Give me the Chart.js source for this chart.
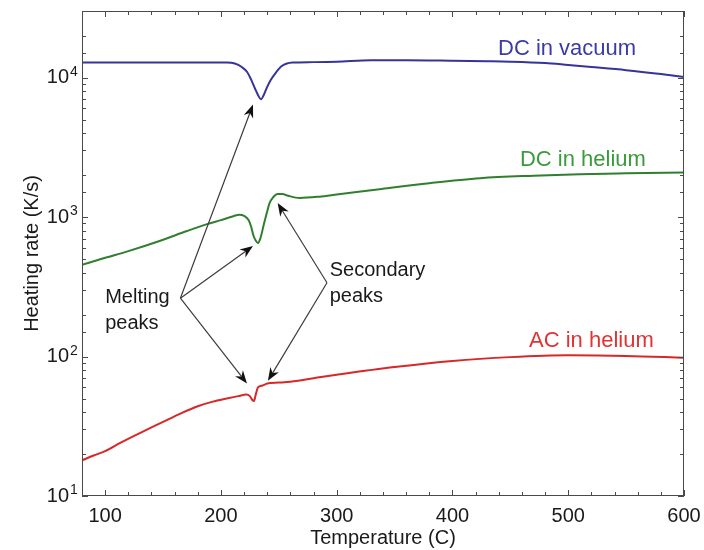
<!DOCTYPE html>
<html><head><meta charset="utf-8">
<script src="https://cdn.jsdelivr.net/npm/chart.js@4.4.1/dist/chart.umd.min.js"></script>
<style>html,body{margin:0;padding:0;background:#fff}canvas{display:block}</style>
</head><body>
<canvas id="c" width="704" height="550"></canvas>
<script>
// ---- data ----
const xTickValues = [100, 200, 300, 400, 500, 600];
const yTickValues = [10, 100, 1000, 10000];
const yTickExponents = ['1', '2', '3', '4'];
const seriesNames = ['DC in vacuum', 'DC in helium', 'AC in helium'];

const vacuumT    = [80, 120, 160, 205, 212, 218, 222.5, 226, 229.4, 232, 234.6, 237, 239.5, 243, 248, 252, 257, 262, 280, 300, 330, 360, 400, 430, 450, 480, 500, 520, 550, 580, 600];
const vacuumRate = [12800, 12800, 12800, 12800, 12600, 11900, 11000, 9700, 8350, 7500, 7000, 7500, 8400, 9600, 11000, 12000, 12600, 12800, 12900, 13000, 13300, 13300, 13200, 13100, 13000, 12700, 12300, 11900, 11300, 10600, 10100];

const heliumT    = [80, 100, 120, 147, 170, 188, 200, 210, 216, 220, 224, 226, 228, 230, 232, 234, 237, 240, 242, 245, 249, 253, 258, 268, 285, 300, 337, 380, 424, 470, 510, 550, 600];
const heliumRate = [454, 510, 570, 674, 790, 890, 950, 1010, 1040, 1020, 950, 860, 740, 680, 652, 700, 880, 1100, 1260, 1380, 1460, 1460, 1420, 1370, 1400, 1450, 1585, 1750, 1900, 1980, 2030, 2060, 2090];

const acT    = [80, 90, 100, 113, 125, 140, 150, 165, 180, 193, 205, 215, 222, 225, 227, 228.5, 230, 232, 236, 240, 250, 260, 285, 300, 350, 400, 450, 500, 550, 600];
const acRate = [18, 19.5, 21, 24, 27, 31, 34, 39, 44, 47.5, 50, 52, 53.5, 52, 49, 48, 53, 60, 62, 64, 65, 66, 71, 74, 84, 93, 99, 102, 101, 98];

const noteLines = [['Melting', 'peaks'], ['Secondary', 'peaks']];
const meltingTargets   = [[227.7, 6400], [227.7, 621], [222.5, 64]];
const secondaryTargets = [[249, 1259], [240.6, 67]];

// ---- layout / style (not data) ----
const FONT = '"Liberation Sans", Arial, Helvetica, sans-serif';
const colors = ['#34349a', '#2f7f2f', '#d62828'];
const labelColors = ['#3a3aa8', '#3b9a3b', '#e03333'];
const labelAnchors = [[499, 16100], [512.7, 2550], [520, 130]];
const noteAnchors = [[[100, 264], [100, 172]], [[294, 411], [294, 268]]];
const meltingOrigin = [165, 262];
const secondaryOrigin = [291.6, 338];

const pts = (xs, ys) => xs.map((v, i) => ({x: v, y: ys[i]}));

const overlay = {
  id: 'overlay',
  afterDraw(chart) {
    const {ctx, chartArea: a, scales: {x, y}} = chart;
    ctx.save();
    // frame
    ctx.strokeStyle = '#4a4a4a';
    ctx.lineWidth = 1;
    ctx.strokeRect(a.left + 0.5, a.top + 0.5, a.right - a.left - 1, a.bottom - a.top - 1);
    ctx.beginPath();
    // x ticks (inward, top and bottom)
    x.ticks.forEach(t => {
      const px = Math.round(x.getPixelForValue(t.value)) + 0.5;
      const L = (t.value % 100 === 0) ? 6 : 4;
      ctx.moveTo(px, a.bottom); ctx.lineTo(px, a.bottom - L);
      ctx.moveTo(px, a.top); ctx.lineTo(px, a.top + L);
    });
    // y ticks (inward, left and right)
    y.ticks.forEach(t => {
      const v = t.value;
      const m = v / Math.pow(10, Math.floor(Math.log10(v) + 1e-9));
      const L = Math.abs(m - 1) < 1e-6 ? 6 : 4;
      const py = Math.round(y.getPixelForValue(v)) + 0.5;
      ctx.moveTo(a.left, py); ctx.lineTo(a.left + L, py);
      ctx.moveTo(a.right, py); ctx.lineTo(a.right - L, py);
    });
    ctx.stroke();

    // y tick labels with superscript
    ctx.fillStyle = '#1a1a1a';
    yTickValues.forEach((v, i) => {
      const py = y.getPixelForValue(v);
      ctx.font = '20px ' + FONT;
      ctx.textAlign = 'right';
      ctx.textBaseline = 'middle';
      const xr = a.left - 13;
      ctx.fillText('10', xr, py);
      ctx.font = '14px ' + FONT;
      ctx.textAlign = 'left';
      ctx.textBaseline = 'alphabetic';
      ctx.fillText(yTickExponents[i], xr + 1, py - 2);
    });

    // series labels
    ctx.font = '22px ' + FONT;
    ctx.textAlign = 'center';
    ctx.textBaseline = 'middle';
    seriesNames.forEach((n, i) => {
      ctx.fillStyle = labelColors[i];
      ctx.fillText(n, x.getPixelForValue(labelAnchors[i][0]), y.getPixelForValue(labelAnchors[i][1]));
    });

    // arrows
    const arrow = (from, to) => {
      const x0 = x.getPixelForValue(from[0]), y0 = y.getPixelForValue(from[1]);
      const x1 = x.getPixelForValue(to[0]), y1 = y.getPixelForValue(to[1]);
      const ang = Math.atan2(y1 - y0, x1 - x0);
      const len = 13, hw = 5, notch = 9;
      ctx.strokeStyle = '#3c3c3c';
      ctx.lineWidth = 1.2;
      ctx.beginPath();
      ctx.moveTo(x0, y0);
      ctx.lineTo(x1 - Math.cos(ang) * notch, y1 - Math.sin(ang) * notch);
      ctx.stroke();
      ctx.fillStyle = '#111';
      ctx.beginPath();
      ctx.moveTo(x1, y1);
      ctx.lineTo(x1 - Math.cos(ang) * len - Math.sin(ang) * hw, y1 - Math.sin(ang) * len + Math.cos(ang) * hw);
      ctx.lineTo(x1 - Math.cos(ang) * notch, y1 - Math.sin(ang) * notch);
      ctx.lineTo(x1 - Math.cos(ang) * len + Math.sin(ang) * hw, y1 - Math.sin(ang) * len - Math.cos(ang) * hw);
      ctx.closePath();
      ctx.fill();
    };
    meltingTargets.forEach(t => arrow(meltingOrigin, t));
    secondaryTargets.forEach(t => arrow(secondaryOrigin, t));

    // note text
    ctx.fillStyle = '#1a1a1a';
    ctx.font = '20px ' + FONT;
    ctx.textAlign = 'left';
    ctx.textBaseline = 'middle';
    noteLines.forEach((lines, i) => {
      lines.forEach((s, j) => {
        ctx.fillText(s, x.getPixelForValue(noteAnchors[i][j][0]), y.getPixelForValue(noteAnchors[i][j][1]));
      });
    });
    ctx.restore();
  }
};

new Chart(document.getElementById('c'), {
  type: 'line',
  data: {
    datasets: [
      {label: seriesNames[0], data: pts(vacuumT, vacuumRate), borderColor: colors[0]},
      {label: seriesNames[1], data: pts(heliumT, heliumRate), borderColor: colors[1]},
      {label: seriesNames[2], data: pts(acT, acRate), borderColor: colors[2]}
    ]
  },
  options: {
    responsive: false,
    devicePixelRatio: 1,
    animation: false,
    layout: {padding: {top: 11, right: 20, left: 0, bottom: 0}},
    elements: {
      line: {borderWidth: 2, cubicInterpolationMode: 'monotone'},
      point: {radius: 0}
    },
    plugins: {legend: {display: false}, tooltip: {enabled: false}},
    scales: {
      x: {
        type: 'linear', min: 80, max: 600,
        grid: {display: false}, border: {display: false},
        ticks: {
          stepSize: 20, autoSkip: false, maxRotation: 0, padding: 0,
          color: '#1a1a1a', font: {family: FONT, size: 20},
          callback: v => xTickValues.includes(v) ? String(v) : ''
        },
        title: {display: true, text: 'Temperature (C)', color: '#1a1a1a', font: {family: FONT, size: 20}, padding: {top: 0, bottom: 0}},
        afterFit: s => { s.height = 54; }
      },
      y: {
        type: 'logarithmic', min: 10, max: 30000,
        grid: {display: false}, border: {display: false},
        ticks: {display: false},
        title: {display: true, text: 'Heating rate (K/s)', color: '#1a1a1a', font: {family: FONT, size: 20}, padding: {top: 20, bottom: 0}},
        afterFit: s => { s.width = 82; }
      }
    }
  },
  plugins: [overlay]
});
</script>
</body></html>
